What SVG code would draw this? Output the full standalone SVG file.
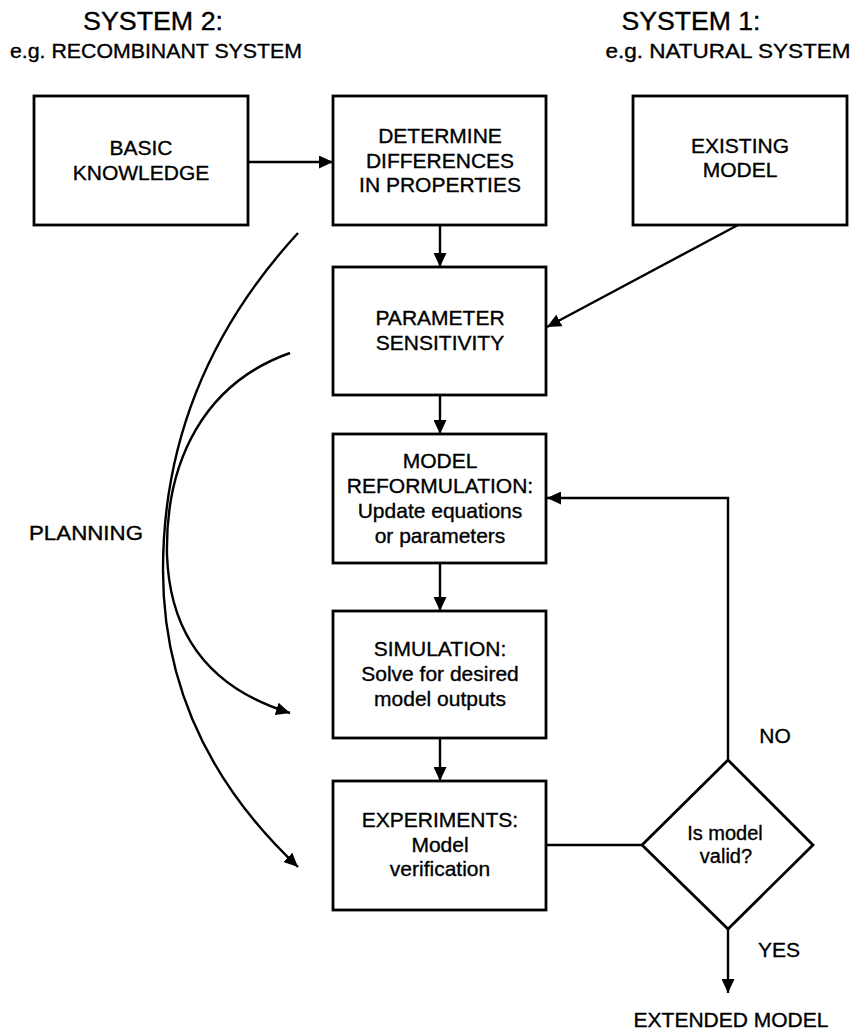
<svg xmlns="http://www.w3.org/2000/svg" width="853" height="1030" viewBox="0 0 853 1030">
  <style>
    text { font-family: "Liberation Sans", Arial, sans-serif; fill: #000; stroke: #000; stroke-width: 0.35; text-anchor: middle; }
    .title { font-size: 25px; }
    .sub { font-size: 20px; }
    .lbl { font-size: 21px; }
    .small { font-size: 20px; }
    .box { fill: #fff; stroke: #000; stroke-width: 2.8; }
    .edge { fill: none; stroke: #000; stroke-width: 2.4; }
  </style>
  <defs>
    <marker id="head" viewBox="0 0 14 13" refX="14" refY="6.5" markerWidth="14" markerHeight="13" markerUnits="userSpaceOnUse" orient="auto">
      <path d="M0,0 L14,6.5 L0,13 z" fill="#000"/>
    </marker>
  </defs>
  <rect width="853" height="1030" fill="#fff"/>

  <!-- column headings -->
  <g id="heading-system2">
    <text class="title" x="153" y="30" textLength="140" lengthAdjust="spacingAndGlyphs">SYSTEM 2:</text>
    <text class="sub" x="156" y="58" textLength="292" lengthAdjust="spacingAndGlyphs">e.g. RECOMBINANT SYSTEM</text>
  </g>
  <g id="heading-system1">
    <text class="title" x="691" y="30" textLength="139" lengthAdjust="spacingAndGlyphs">SYSTEM 1:</text>
    <text class="sub" x="728" y="58" textLength="245" lengthAdjust="spacingAndGlyphs">e.g. NATURAL SYSTEM</text>
  </g>

  <!-- connectors -->
  <g id="connectors">
    <path class="edge" d="M248,162 L333,162" marker-end="url(#head)"/>
    <path class="edge" d="M440,225 L440,267" marker-end="url(#head)"/>
    <path class="edge" d="M738,225 L547,327" marker-end="url(#head)"/>
    <path class="edge" d="M440,395 L440,434" marker-end="url(#head)"/>
    <path class="edge" d="M440,563 L440,611" marker-end="url(#head)"/>
    <path class="edge" d="M440,738 L440,781" marker-end="url(#head)"/>
    <path class="edge" d="M546,845 L642,845"/>
    <path class="edge" d="M728,760 L728,498 L547,498" marker-end="url(#head)"/>
    <path class="edge" d="M728,929 L728,993" marker-end="url(#head)"/>
    <!-- planning arcs -->
    <path class="edge" d="M298,233 Q163,380 163,570 Q163,740 298,867" marker-end="url(#head)"/>
    <path class="edge" d="M290,353 C205,383 165,460 167,555 C170,640 215,690 290,713" marker-end="url(#head)"/>
  </g>

  <g id="basic-knowledge">
    <rect class="box" x="34" y="96" width="214" height="129"/>
    <text class="lbl" x="141" y="155">BASIC</text>
    <text class="lbl" x="141" y="180">KNOWLEDGE</text>
  </g>
  <g id="determine-differences">
    <rect class="box" x="333" y="96" width="213" height="129"/>
    <text class="lbl" x="440" y="143">DETERMINE</text>
    <text class="lbl" x="440" y="168">DIFFERENCES</text>
    <text class="lbl" x="440" y="192">IN PROPERTIES</text>
  </g>
  <g id="existing-model">
    <rect class="box" x="633" y="96" width="214" height="129"/>
    <text class="lbl" x="740" y="153">EXISTING</text>
    <text class="lbl" x="740" y="177">MODEL</text>
  </g>
  <g id="parameter-sensitivity">
    <rect class="box" x="333" y="267" width="213" height="128"/>
    <text class="lbl" x="440" y="325">PARAMETER</text>
    <text class="lbl" x="440" y="350">SENSITIVITY</text>
  </g>
  <g id="model-reformulation">
    <rect class="box" x="333" y="434" width="213" height="129"/>
    <text class="lbl" x="440" y="468">MODEL</text>
    <text class="lbl" x="440" y="493">REFORMULATION:</text>
    <text class="lbl" x="440" y="518">Update equations</text>
    <text class="lbl" x="440" y="543">or parameters</text>
  </g>
  <g id="simulation">
    <rect class="box" x="333" y="611" width="213" height="127"/>
    <text class="lbl" x="440" y="656">SIMULATION:</text>
    <text class="lbl" x="440" y="681">Solve for desired</text>
    <text class="lbl" x="440" y="706">model outputs</text>
  </g>
  <g id="experiments">
    <rect class="box" x="333" y="781" width="213" height="129"/>
    <text class="lbl" x="440" y="827">EXPERIMENTS:</text>
    <text class="lbl" x="440" y="852">Model</text>
    <text class="lbl" x="440" y="876">verification</text>
  </g>
  <g id="validity-check">
    <path class="box" d="M728,760 L813,845 L728,929 L642,845 z"/>
    <text class="small" x="725" y="840">Is model</text>
    <text class="small" x="726" y="863">valid?</text>
  </g>
  <g id="labels">
    <text class="lbl" x="775" y="743">NO</text>
    <text class="lbl" x="779" y="957">YES</text>
    <text class="lbl" x="731" y="1027">EXTENDED MODEL</text>
    <text class="lbl" x="143" y="540" style="text-anchor:end" textLength="114" lengthAdjust="spacingAndGlyphs">PLANNING</text>
  </g>
</svg>
